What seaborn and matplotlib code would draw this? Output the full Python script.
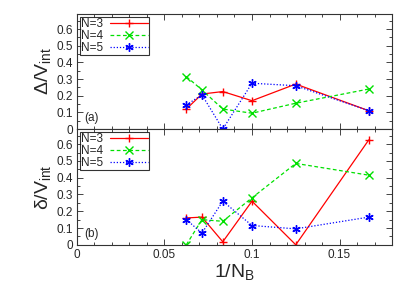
import numpy as np
import matplotlib
matplotlib.use("Agg")
import matplotlib.pyplot as plt
import seaborn as sns
from matplotlib.ticker import MultipleLocator

# 1/N_B for N_B = 16, 14, 12, 10, 8, 6
inv_nb = [1 / 16, 1 / 14, 1 / 12, 1 / 10, 1 / 8, 1 / 6]

# panel (a): Delta / V_int
gap_n3 = [0.12, 0.21, 0.225, 0.17, 0.27, 0.11]
gap_n4 = [0.315, 0.235, 0.12, 0.095, 0.155, 0.24]
gap_n5 = [0.145, 0.205, 0.0, 0.275, 0.26, 0.11]

# panel (b): delta / V_int
dlt_n3 = [0.16, 0.165, 0.018, 0.26, 0.0, 0.625]
dlt_n4 = [0.0, 0.15, 0.14, 0.28, 0.485, 0.415]
dlt_n5 = [0.15, 0.07, 0.26, 0.115, 0.095, 0.165]

labels = ["N=3", "N=4", "N=5"]

sns.set_style("ticks")
plt.rcParams["font.family"] = ["Liberation Sans", "DejaVu Sans"]
plt.rcParams["mathtext.fontset"] = "custom"
plt.rcParams["mathtext.rm"] = "Liberation Sans"
plt.rcParams["mathtext.it"] = "Liberation Sans"
plt.rcParams["mathtext.sf"] = "Liberation Sans"

styles = [
    dict(color="#ff0000", marker="+", linestyle="-"),
    dict(color="#00e000", marker="x", linestyle=(0, (3, 2))),
    dict(color="#0000ff", marker=(6, 2, 0), linestyle=(0, (1, 1.5))),
]

fig = plt.figure(figsize=(4.11, 2.88), dpi=100)
ax_a = fig.add_axes([0.187, 0.552, 0.767, 0.399])
ax_b = fig.add_axes([0.187, 0.150, 0.767, 0.402], sharex=ax_a)

panels = [
    (ax_a, [gap_n3, gap_n4, gap_n5], r"$\Delta/V_{\rm int}$", "(a)"),
    (ax_b, [dlt_n3, dlt_n4, dlt_n5], r"$\delta/V_{\rm int}$", "(b)"),
]

for ax, series, ylab, tag in panels:
    for vals, lab, st in zip(series, labels, styles):
        sns.lineplot(x=inv_nb, y=vals, ax=ax, label=lab, color=st["color"],
                     marker=st["marker"], linestyle=st["linestyle"],
                     linewidth=0.9, markersize=6, markeredgewidth=1.0,
                     markeredgecolor=st["color"])
    ax.set_xlim(0, 0.18)
    ax.set_ylim(0, 0.69)
    ax.xaxis.set_major_locator(MultipleLocator(0.05))
    ax.xaxis.set_minor_locator(MultipleLocator(0.01))
    ax.yaxis.set_major_locator(MultipleLocator(0.1))
    ax.yaxis.set_minor_locator(MultipleLocator(0.05))
    ax.tick_params(which="both", direction="in", top=True, right=True,
                   labelsize=8.5, width=0.6, pad=3)
    ax.tick_params(which="major", length=4)
    ax.tick_params(which="minor", length=2)
    ax.yaxis.set_major_formatter(plt.FuncFormatter(lambda v, p: f"{v:g}"))
    ax.xaxis.set_major_formatter(plt.FuncFormatter(lambda v, p: f"{v:g}"))
    for sp in ax.spines.values():
        sp.set_linewidth(0.8)
        sp.set_color("#333333")
    ax.set_ylabel(ylab, fontsize=14, labelpad=2)
    ax.text(0.025, 0.07, tag, transform=ax.transAxes, fontsize=8.5)
    leg = ax.legend(loc="upper left", markerfirst=False, fontsize=8.5,
                    frameon=True, fancybox=False, handlelength=3.2,
                    borderpad=0.1, labelspacing=0.0, handletextpad=0.6,
                    borderaxespad=0.25)
    leg.get_frame().set_edgecolor("black")
    leg.get_frame().set_linewidth(0.8)

ax_a.tick_params(labelbottom=False)
ax_a.set_xlabel("")
ax_b.set_xlabel(r"$1/N_{\rm B}$", fontsize=14, labelpad=1)

fig.savefig("out.png", dpi=100)
